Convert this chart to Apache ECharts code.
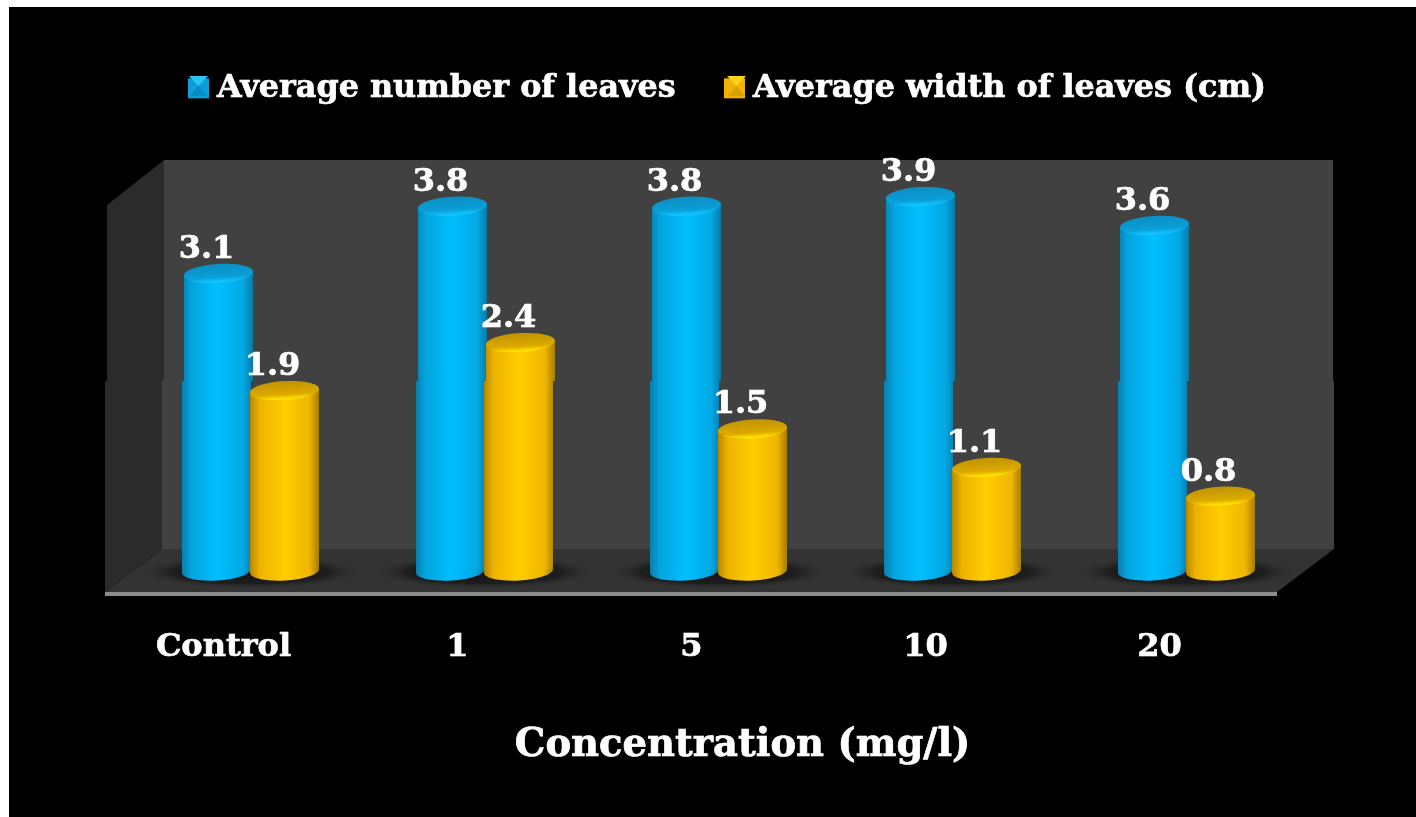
<!DOCTYPE html>
<html>
<head>
<meta charset="utf-8">
<style>html,body{margin:0;padding:0;background:#fff}#chart{width:1416px;height:817px}</style>
<script src="https://cdn.jsdelivr.net/npm/echarts@6/dist/echarts.min.js"></script>
</head>
<body>
<div id="chart"></div>
<script>
// Leaf measurements per concentration
const categories = ['Control', '1', '5', '10', '20'];
const leafCount = [3.1, 3.8, 3.8, 3.9, 3.6];
const leafWidth = [1.9, 2.4, 1.5, 1.1, 0.8];
const countName = 'Average number of leaves';
const widthName = 'Average width of leaves (cm)';
const axisTitle = 'Concentration (mg/l)';

const FONT = '"DejaVu Serif", serif';
const HEAVY = { textBorderColor: '#fff', textBorderWidth: 0.7 };
// Pseudo-3D box: columns stand on the floor, set back from its front edge
const DEPTH_Y = -21;
const RX = 34.5;
const RY = 9.5;
const TILT = 0.06;
const LEAN = RX * Math.sin(TILT);
const SEAM_Y = 381;   // upper half of the box is nudged right of this line
const SEAM_DX = 2;

const bodyGrad = (edgeL, mid, core, mid2, edgeR) => ({
  type: 'linear', x: 0, y: 0, x2: 1, y2: 0,
  colorStops: [
    { offset: 0, color: edgeL }, { offset: 0.14, color: mid }, { offset: 0.5, color: core },
    { offset: 0.86, color: mid2 }, { offset: 1, color: edgeR }
  ]
});
const capGrad = (dark, mid, rim) => ({
  type: 'linear', x: 0, y: 0, x2: 0, y2: 1,
  colorStops: [
    { offset: 0, color: dark }, { offset: 0.7, color: mid }, { offset: 0.93, color: rim }, { offset: 1, color: rim }
  ]
});
const blue = {
  body: bodyGrad('#0a7fae', '#03a5df', '#00bfff', '#02a9e4', '#0a7aa6'),
  cap: capGrad('#0a8fc4', '#0a9fd8', '#10c4ff')
};
const gold = {
  body: bodyGrad('#b58700', '#edb300', '#ffcd00', '#efb600', '#a67d00'),
  cap: capGrad('#c09300', '#dcaa00', '#ffe000')
};

function cylinderItem(palette, offsetX, capDrop) {
  return function (params, api) {
    const idx = api.value(0);
    const val = api.value(1);
    const base = api.coord([idx, 0]);
    const head = api.coord([idx, val]);
    const xc = base[0] + offsetX;
    const yBase = base[1] + DEPTH_Y;
    const yTop = head[1] + DEPTH_Y + capDrop;
    const upper = yTop < SEAM_Y ? SEAM_DX : 0;
    const l = xc - RX, r = xc + RX;
    const pts = upper
      ? [[l, yBase + LEAN], [l, SEAM_Y], [l + upper, SEAM_Y], [l + upper, yTop + LEAN], [r + upper, yTop - LEAN], [r + upper, SEAM_Y], [r, SEAM_Y], [r, yBase - LEAN]]
      : [[l, yBase + LEAN], [l, yTop + LEAN], [r, yTop - LEAN], [r, yBase - LEAN]];
    return {
      type: 'group',
      children: [
        { type: 'ellipse', x: xc, y: yBase, rotation: TILT, shape: { cx: 0, cy: 0, rx: RX, ry: RY }, style: { fill: palette.body } },
        { type: 'polygon', shape: { points: pts }, style: { fill: palette.body } },
        { type: 'ellipse', x: xc + upper, y: yTop, rotation: TILT, shape: { cx: 0, cy: 0, rx: RX, ry: RY }, style: { fill: palette.cap } },
        {
          type: 'text', x: xc + upper - 12, y: yTop - 24,
          style: { text: val.toFixed(1), fill: '#fff', stroke: '#fff', lineWidth: 0.7, font: 'bold 32px ' + FONT, textAlign: 'center', textVerticalAlign: 'middle' }
        }
      ]
    };
  };
}

// Soft contact shadow on the floor beneath each pair of columns
function shadowItem(params, api) {
  const base = api.coord([api.value(0), 0]);
  return {
    type: 'circle', x: base[0] + 27, y: base[1] + DEPTH_Y + 1, scaleY: 0.15,
    shape: { cx: 0, cy: 0, r: 108 },
    style: {
      fill: {
        type: 'radial', x: 0.5, y: 0.5, r: 0.5,
        colorStops: [
          { offset: 0, color: 'rgba(15,15,15,0.9)' }, { offset: 0.72, color: 'rgba(18,18,18,0.65)' }, { offset: 1, color: 'rgba(40,40,40,0)' }
        ]
      }
    }
  };
}

const poly = (points, fill, z) => ({ type: 'polygon', shape: { points }, style: { fill }, z: z || 0 });

const backdrop = [
  { type: 'rect', shape: { x: 9, y: 7, width: 1407, height: 810 }, style: { fill: '#000' }, z: -2 },
  // side wall
  poly([[107, 205], [164, 160], [164, 381], [107, 381]], '#2b2b2b'),
  poly([[105, 381], [162, 381], [162, 549], [105, 592]], '#2b2b2b'),
  // back wall
  poly([[164, 160], [1333, 160], [1333, 381], [164, 381]], '#414141'),
  poly([[162, 381], [1334, 381], [1334, 549], [162, 549]], '#414141'),
  // floor and its front lip
  poly([[162, 549], [1334, 549], [1277, 592], [105, 592]], '#333333'),
  poly([[105, 592], [1277, 592], [1277, 596], [105, 596]], '#8c8c8c')
];

// Pyramid bevel on the legend swatches
const bevel = (x, y, w, h, light, dark) => [
  poly([[x + 2, y + h], [x + w / 2, y + h * 0.5], [x + w - 2, y + h]], dark, 6),
  poly([[x + 1, y], [x + w - 1, y], [x + w / 2, y + h * 0.5]], light, 6)
];

const chart = echarts.init(document.getElementById('chart'), null, { renderer: 'canvas' });
chart.setOption({
  backgroundColor: '#fff',
  animation: false,
  title: {
    text: axisTitle, left: 737.5, top: 721, textAlign: 'center',
    textStyle: Object.assign({ color: '#fff', fontFamily: FONT, fontWeight: 'bold', fontSize: 38.5 }, HEAVY)
  },
  legend: {
    left: 183, top: 67, itemWidth: 21, itemHeight: 20, itemGap: 48,
    textStyle: Object.assign({ color: '#fff', fontFamily: FONT, fontWeight: 'bold', fontSize: 31.8, padding: [0, 0, 0, 3] }, HEAVY),
    data: [
      { name: countName, icon: 'rect', itemStyle: { color: '#0a9fd8' } },
      { name: widthName, icon: 'rect', itemStyle: { color: '#f0b400' } }
    ]
  },
  grid: { left: 106.5, width: 1170, top: 208, height: 384 },
  xAxis: {
    type: 'category', data: categories,
    axisLine: { show: false }, axisTick: { show: false },
    axisLabel: Object.assign({ color: '#fff', fontFamily: FONT, fontWeight: 'bold', fontSize: 32, margin: 40, interval: 0 }, HEAVY)
  },
  yAxis: { type: 'value', min: 0, max: 4, show: false },
  graphic: { elements: backdrop.concat(bevel(188, 76, 21, 20, '#2cc6f6', '#0a8cc0'), bevel(726, 76, 21, 20, '#ffd21a', '#d9a000')) },
  series: [
    { type: 'custom', name: 'shadow', silent: true, z: 1, encode: { x: 0, y: 1 }, renderItem: shadowItem, data: categories.map((c, i) => [i, 0]) },
    { type: 'custom', name: countName, z: 2, encode: { x: 0, y: 1 }, renderItem: cylinderItem(blue, -7, 0), data: leafCount.map((v, i) => [i, v]) },
    { type: 'custom', name: widthName, z: 3, encode: { x: 0, y: 1 }, renderItem: cylinderItem(gold, 61, 2), data: leafWidth.map((v, i) => [i, v]) }
  ]
});
</script>
</body>
</html>
